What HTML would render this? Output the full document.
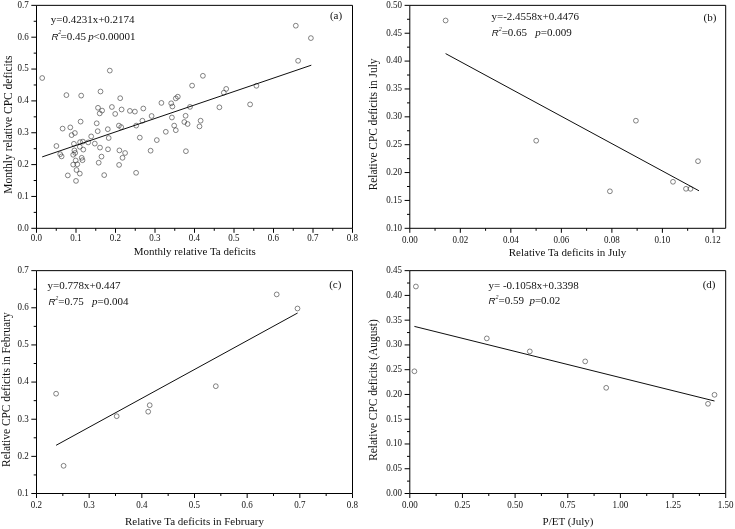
<!DOCTYPE html>
<html><head><meta charset="utf-8"><title>Figure</title>
<style>
html,body{margin:0;padding:0;background:#fff;-webkit-font-smoothing:antialiased;}
body{width:735px;height:529px;overflow:hidden;font-family:"Liberation Serif", serif;}
svg{display:block;will-change:transform;}
text{font-family:"Liberation Serif", serif;fill:#111;white-space:pre;}
.tk{font-size:9px;}
.eq{font-size:11px;}
.it{font-style:italic;}
.ri{font-family:"Liberation Sans", sans-serif;font-style:italic;font-size:9.6px;}
.sup{font-size:6px;font-style:italic;}
.pt circle{fill:#fff;fill-opacity:0;stroke:#333;stroke-width:0.6;}
</style></head><body>
<svg width="735" height="529" viewBox="0 0 735 529">
<rect x="0" y="0" width="735" height="529" fill="#fff"/>
<path d="M36.5 5.35H352.5V228.3H36.5Z" fill="none" stroke="#000" stroke-width="1.0"/>
<path d="M36.5 228.3v4.5M76 228.3v4.5M115.5 228.3v4.5M155 228.3v4.5M194.5 228.3v4.5M234 228.3v4.5M273.5 228.3v4.5M313 228.3v4.5M352.5 228.3v4.5M56.25 228.3v2.5M95.75 228.3v2.5M135.25 228.3v2.5M174.75 228.3v2.5M214.25 228.3v2.5M253.75 228.3v2.5M293.25 228.3v2.5M332.75 228.3v2.5M36.5 228.3h-5.2M36.5 196.45h-5.2M36.5 164.6h-5.2M36.5 132.75h-5.2M36.5 100.9h-5.2M36.5 69.05h-5.2M36.5 37.2h-5.2M36.5 5.35h-5.2M36.5 212.38h-2.8M36.5 180.53h-2.8M36.5 148.68h-2.8M36.5 116.83h-2.8M36.5 84.98h-2.8M36.5 53.13h-2.8M36.5 21.28h-2.8" fill="none" stroke="#000" stroke-width="1.0"/>
<text transform="translate(36.5 240.5) scale(1 1.06)" text-anchor="middle" class="tk">0.0</text>
<text transform="translate(76 240.5) scale(1 1.06)" text-anchor="middle" class="tk">0.1</text>
<text transform="translate(115.5 240.5) scale(1 1.06)" text-anchor="middle" class="tk">0.2</text>
<text transform="translate(155 240.5) scale(1 1.06)" text-anchor="middle" class="tk">0.3</text>
<text transform="translate(194.5 240.5) scale(1 1.06)" text-anchor="middle" class="tk">0.4</text>
<text transform="translate(234 240.5) scale(1 1.06)" text-anchor="middle" class="tk">0.5</text>
<text transform="translate(273.5 240.5) scale(1 1.06)" text-anchor="middle" class="tk">0.6</text>
<text transform="translate(313 240.5) scale(1 1.06)" text-anchor="middle" class="tk">0.7</text>
<text transform="translate(352.5 240.5) scale(1 1.06)" text-anchor="middle" class="tk">0.8</text>
<text transform="translate(28.8 230.7) scale(1 1.06)" text-anchor="end" class="tk">0.0</text>
<text transform="translate(28.8 198.85) scale(1 1.06)" text-anchor="end" class="tk">0.1</text>
<text transform="translate(28.8 167) scale(1 1.06)" text-anchor="end" class="tk">0.2</text>
<text transform="translate(28.8 135.15) scale(1 1.06)" text-anchor="end" class="tk">0.3</text>
<text transform="translate(28.8 103.3) scale(1 1.06)" text-anchor="end" class="tk">0.4</text>
<text transform="translate(28.8 71.45) scale(1 1.06)" text-anchor="end" class="tk">0.5</text>
<text transform="translate(28.8 39.6) scale(1 1.06)" text-anchor="end" class="tk">0.6</text>
<text transform="translate(28.8 7.75) scale(1 1.06)" text-anchor="end" class="tk">0.7</text>
<g class="pt">
<circle cx="42.2" cy="78" r="2.4"/>
<circle cx="109.8" cy="70.6" r="2.4"/>
<circle cx="66.4" cy="95.1" r="2.4"/>
<circle cx="81.2" cy="95.6" r="2.4"/>
<circle cx="100.5" cy="91.5" r="2.4"/>
<circle cx="120.2" cy="98.2" r="2.4"/>
<circle cx="98" cy="107.8" r="2.4"/>
<circle cx="102.1" cy="110.6" r="2.4"/>
<circle cx="99.7" cy="113.4" r="2.4"/>
<circle cx="111.9" cy="107" r="2.4"/>
<circle cx="115.2" cy="113.9" r="2.4"/>
<circle cx="121.6" cy="109.5" r="2.4"/>
<circle cx="129.9" cy="110.9" r="2.4"/>
<circle cx="134.9" cy="111.6" r="2.4"/>
<circle cx="143.3" cy="108.5" r="2.4"/>
<circle cx="151.6" cy="116" r="2.4"/>
<circle cx="80.6" cy="121.6" r="2.4"/>
<circle cx="96.7" cy="123.3" r="2.4"/>
<circle cx="62.6" cy="128.6" r="2.4"/>
<circle cx="70.3" cy="127.4" r="2.4"/>
<circle cx="74.9" cy="133" r="2.4"/>
<circle cx="71.6" cy="135.1" r="2.4"/>
<circle cx="97.7" cy="131.2" r="2.4"/>
<circle cx="107.8" cy="129.2" r="2.4"/>
<circle cx="118.9" cy="125.6" r="2.4"/>
<circle cx="121.2" cy="127.1" r="2.4"/>
<circle cx="136.2" cy="125.6" r="2.4"/>
<circle cx="142.4" cy="120.7" r="2.4"/>
<circle cx="91.2" cy="136.4" r="2.4"/>
<circle cx="108.7" cy="138" r="2.4"/>
<circle cx="139.8" cy="137.6" r="2.4"/>
<circle cx="156.8" cy="140.1" r="2.4"/>
<circle cx="56.4" cy="146" r="2.4"/>
<circle cx="73.9" cy="143.8" r="2.4"/>
<circle cx="80.1" cy="142.1" r="2.4"/>
<circle cx="82.9" cy="141.6" r="2.4"/>
<circle cx="88.2" cy="142.4" r="2.4"/>
<circle cx="94.8" cy="143.6" r="2.4"/>
<circle cx="60.2" cy="154.2" r="2.4"/>
<circle cx="61.6" cy="156.4" r="2.4"/>
<circle cx="74.4" cy="150.4" r="2.4"/>
<circle cx="75.2" cy="152.9" r="2.4"/>
<circle cx="73.2" cy="154.8" r="2.4"/>
<circle cx="79.8" cy="146.8" r="2.4"/>
<circle cx="83.3" cy="149.6" r="2.4"/>
<circle cx="100" cy="147.6" r="2.4"/>
<circle cx="108" cy="149.3" r="2.4"/>
<circle cx="119.4" cy="150.4" r="2.4"/>
<circle cx="125.1" cy="153" r="2.4"/>
<circle cx="150.6" cy="150.7" r="2.4"/>
<circle cx="101.5" cy="156.6" r="2.4"/>
<circle cx="122.5" cy="157.8" r="2.4"/>
<circle cx="81.7" cy="157.8" r="2.4"/>
<circle cx="82.5" cy="160.2" r="2.4"/>
<circle cx="75.7" cy="160.5" r="2.4"/>
<circle cx="73.2" cy="164.6" r="2.4"/>
<circle cx="77.3" cy="164.3" r="2.4"/>
<circle cx="98.7" cy="162.7" r="2.4"/>
<circle cx="119.1" cy="164.9" r="2.4"/>
<circle cx="76.5" cy="170" r="2.4"/>
<circle cx="79.8" cy="173.6" r="2.4"/>
<circle cx="67.8" cy="175.4" r="2.4"/>
<circle cx="104.2" cy="175.1" r="2.4"/>
<circle cx="136.1" cy="172.8" r="2.4"/>
<circle cx="76" cy="180.9" r="2.4"/>
<circle cx="202.9" cy="75.8" r="2.4"/>
<circle cx="192.1" cy="85.6" r="2.4"/>
<circle cx="226.2" cy="88.9" r="2.4"/>
<circle cx="223.8" cy="92.7" r="2.4"/>
<circle cx="256.4" cy="85.8" r="2.4"/>
<circle cx="177.8" cy="96.7" r="2.4"/>
<circle cx="175.8" cy="98.4" r="2.4"/>
<circle cx="161.4" cy="102.9" r="2.4"/>
<circle cx="171.2" cy="103.3" r="2.4"/>
<circle cx="172.4" cy="106.5" r="2.4"/>
<circle cx="190" cy="106.9" r="2.4"/>
<circle cx="219.4" cy="107.3" r="2.4"/>
<circle cx="250.1" cy="104.4" r="2.4"/>
<circle cx="171.9" cy="117.5" r="2.4"/>
<circle cx="185.6" cy="115.8" r="2.4"/>
<circle cx="200.6" cy="120.7" r="2.4"/>
<circle cx="184.3" cy="122" r="2.4"/>
<circle cx="187.6" cy="124" r="2.4"/>
<circle cx="199.5" cy="126.4" r="2.4"/>
<circle cx="174.2" cy="125.6" r="2.4"/>
<circle cx="175.8" cy="130.2" r="2.4"/>
<circle cx="165.8" cy="131.8" r="2.4"/>
<circle cx="185.9" cy="151.2" r="2.4"/>
<circle cx="295.8" cy="25.7" r="2.4"/>
<circle cx="310.9" cy="38.1" r="2.4"/>
<circle cx="298.1" cy="60.8" r="2.4"/>
</g>
<line x1="42.2" y1="156.9" x2="311.3" y2="65.2" stroke="#000" stroke-width="0.95"/>
<text x="50.7" y="23.1" class="eq">y=0.4231x+0.2174</text>
<text x="51.4" y="39.7" class="eq"><tspan class="ri">R</tspan><tspan class="sup" dy="-5.6">2</tspan><tspan dy="5.6" dx="-0.8">=0.45 </tspan><tspan class="it" dx="-0.4">p</tspan><tspan dx="-0.3">&lt;0.00001</tspan></text>
<text x="336" y="18.6" text-anchor="middle" class="eq">(a)</text>
<text x="194.8" y="254.8" text-anchor="middle" class="eq">Monthly relative Ta deficits</text>
<text transform="translate(11.85 124.7) rotate(-90) scale(1.046 1.05)" text-anchor="middle" class="eq">Monthly relative CPC deficits</text>
<path d="M409.8 5.35H725.7V228.3H409.8Z" fill="none" stroke="#000" stroke-width="1.0"/>
<path d="M409.8 228.3v4.5M460.32 228.3v4.5M510.84 228.3v4.5M561.36 228.3v4.5M611.88 228.3v4.5M662.4 228.3v4.5M712.92 228.3v4.5M435.06 228.3v2.5M485.58 228.3v2.5M536.1 228.3v2.5M586.62 228.3v2.5M637.14 228.3v2.5M687.66 228.3v2.5M409.8 228.3h-5.2M409.8 200.43h-5.2M409.8 172.56h-5.2M409.8 144.69h-5.2M409.8 116.83h-5.2M409.8 88.96h-5.2M409.8 61.09h-5.2M409.8 33.22h-5.2M409.8 5.35h-5.2M409.8 214.37h-2.8M409.8 186.5h-2.8M409.8 158.63h-2.8M409.8 130.76h-2.8M409.8 102.89h-2.8M409.8 75.02h-2.8M409.8 47.15h-2.8M409.8 19.28h-2.8" fill="none" stroke="#000" stroke-width="1.0"/>
<text transform="translate(409.8 242.9) scale(1 1.06)" text-anchor="middle" class="tk">0.00</text>
<text transform="translate(460.32 242.9) scale(1 1.06)" text-anchor="middle" class="tk">0.02</text>
<text transform="translate(510.84 242.9) scale(1 1.06)" text-anchor="middle" class="tk">0.04</text>
<text transform="translate(561.36 242.9) scale(1 1.06)" text-anchor="middle" class="tk">0.06</text>
<text transform="translate(611.88 242.9) scale(1 1.06)" text-anchor="middle" class="tk">0.08</text>
<text transform="translate(662.4 242.9) scale(1 1.06)" text-anchor="middle" class="tk">0.10</text>
<text transform="translate(712.92 242.9) scale(1 1.06)" text-anchor="middle" class="tk">0.12</text>
<text transform="translate(402.1 230.7) scale(1 1.06)" text-anchor="end" class="tk">0.10</text>
<text transform="translate(402.1 202.83) scale(1 1.06)" text-anchor="end" class="tk">0.15</text>
<text transform="translate(402.1 174.96) scale(1 1.06)" text-anchor="end" class="tk">0.20</text>
<text transform="translate(402.1 147.09) scale(1 1.06)" text-anchor="end" class="tk">0.25</text>
<text transform="translate(402.1 119.23) scale(1 1.06)" text-anchor="end" class="tk">0.30</text>
<text transform="translate(402.1 91.36) scale(1 1.06)" text-anchor="end" class="tk">0.35</text>
<text transform="translate(402.1 63.49) scale(1 1.06)" text-anchor="end" class="tk">0.40</text>
<text transform="translate(402.1 35.62) scale(1 1.06)" text-anchor="end" class="tk">0.45</text>
<text transform="translate(402.1 7.75) scale(1 1.06)" text-anchor="end" class="tk">0.50</text>
<g class="pt">
<circle cx="445.6" cy="20.5" r="2.4"/>
<circle cx="536.2" cy="140.7" r="2.4"/>
<circle cx="609.9" cy="191.3" r="2.4"/>
<circle cx="635.9" cy="120.7" r="2.4"/>
<circle cx="673" cy="181.8" r="2.4"/>
<circle cx="686" cy="188.8" r="2.4"/>
<circle cx="690.5" cy="188.8" r="2.4"/>
<circle cx="698" cy="161.2" r="2.4"/>
</g>
<line x1="445.6" y1="53.6" x2="699" y2="190.8" stroke="#000" stroke-width="0.95"/>
<text x="491.5" y="19.9" class="eq">y=-2.4558x+0.4476</text>
<text x="491.7" y="36.2" class="eq"><tspan class="ri">R</tspan><tspan class="sup" dy="-5.6">2</tspan><tspan dy="5.6">=0.65   </tspan><tspan class="it">p</tspan>=0.009</text>
<text x="709.9" y="21.4" text-anchor="middle" class="eq">(b)</text>
<text x="567.5" y="256.2" text-anchor="middle" class="eq">Relative Ta deficits in July</text>
<text transform="translate(376.9 124.45) rotate(-90) scale(1.033 1.12)" text-anchor="middle" class="eq">Relative CPC deficits in July</text>
<path d="M36.5 270.65H352.5V493.5H36.5Z" fill="none" stroke="#000" stroke-width="1.0"/>
<path d="M36.5 493.5v4.5M89.17 493.5v4.5M141.83 493.5v4.5M194.5 493.5v4.5M247.17 493.5v4.5M299.83 493.5v4.5M352.5 493.5v4.5M62.83 493.5v2.5M115.5 493.5v2.5M168.17 493.5v2.5M220.83 493.5v2.5M273.5 493.5v2.5M326.17 493.5v2.5M36.5 493.5h-5.2M36.5 456.36h-5.2M36.5 419.22h-5.2M36.5 382.07h-5.2M36.5 344.93h-5.2M36.5 307.79h-5.2M36.5 270.65h-5.2M36.5 474.93h-2.8M36.5 437.79h-2.8M36.5 400.65h-2.8M36.5 363.5h-2.8M36.5 326.36h-2.8M36.5 289.22h-2.8" fill="none" stroke="#000" stroke-width="1.0"/>
<text transform="translate(36.5 508.1) scale(1 1.06)" text-anchor="middle" class="tk">0.2</text>
<text transform="translate(89.17 508.1) scale(1 1.06)" text-anchor="middle" class="tk">0.3</text>
<text transform="translate(141.83 508.1) scale(1 1.06)" text-anchor="middle" class="tk">0.4</text>
<text transform="translate(194.5 508.1) scale(1 1.06)" text-anchor="middle" class="tk">0.5</text>
<text transform="translate(247.17 508.1) scale(1 1.06)" text-anchor="middle" class="tk">0.6</text>
<text transform="translate(299.83 508.1) scale(1 1.06)" text-anchor="middle" class="tk">0.7</text>
<text transform="translate(352.5 508.1) scale(1 1.06)" text-anchor="middle" class="tk">0.8</text>
<text transform="translate(28.8 495.9) scale(1 1.06)" text-anchor="end" class="tk">0.1</text>
<text transform="translate(28.8 458.76) scale(1 1.06)" text-anchor="end" class="tk">0.2</text>
<text transform="translate(28.8 421.62) scale(1 1.06)" text-anchor="end" class="tk">0.3</text>
<text transform="translate(28.8 384.47) scale(1 1.06)" text-anchor="end" class="tk">0.4</text>
<text transform="translate(28.8 347.33) scale(1 1.06)" text-anchor="end" class="tk">0.5</text>
<text transform="translate(28.8 310.19) scale(1 1.06)" text-anchor="end" class="tk">0.6</text>
<text transform="translate(28.8 273.05) scale(1 1.06)" text-anchor="end" class="tk">0.7</text>
<g class="pt">
<circle cx="56.1" cy="393.7" r="2.4"/>
<circle cx="63.6" cy="465.8" r="2.4"/>
<circle cx="116.7" cy="416.2" r="2.4"/>
<circle cx="148.2" cy="411.7" r="2.4"/>
<circle cx="149.7" cy="405.2" r="2.4"/>
<circle cx="215.8" cy="386.2" r="2.4"/>
<circle cx="276.7" cy="294.4" r="2.4"/>
<circle cx="297.5" cy="308.5" r="2.4"/>
</g>
<line x1="56.1" y1="445.3" x2="297.6" y2="313" stroke="#000" stroke-width="0.95"/>
<text x="47.5" y="289.1" class="eq">y=0.778x+0.447</text>
<text x="48.4" y="305.4" class="eq"><tspan class="ri">R</tspan><tspan class="sup" dy="-5.6">2</tspan><tspan dy="5.6">=0.75   </tspan><tspan class="it">p</tspan>=0.004</text>
<text x="335.3" y="288.4" text-anchor="middle" class="eq">(c)</text>
<text x="194.5" y="525" text-anchor="middle" class="eq">Relative Ta deficits in February</text>
<text transform="translate(9.8 389.65) rotate(-90) scale(1.038 1.13)" text-anchor="middle" class="eq">Relative CPC deficits in February</text>
<path d="M409.8 270.65H725.7V493.5H409.8Z" fill="none" stroke="#000" stroke-width="1.0"/>
<path d="M409.8 493.5v4.5M462.45 493.5v4.5M515.1 493.5v4.5M567.75 493.5v4.5M620.4 493.5v4.5M673.05 493.5v4.5M725.7 493.5v4.5M436.12 493.5v2.5M488.78 493.5v2.5M541.42 493.5v2.5M594.08 493.5v2.5M646.73 493.5v2.5M699.38 493.5v2.5M409.8 493.5h-5.2M409.8 468.74h-5.2M409.8 443.98h-5.2M409.8 419.22h-5.2M409.8 394.46h-5.2M409.8 369.69h-5.2M409.8 344.93h-5.2M409.8 320.17h-5.2M409.8 295.41h-5.2M409.8 270.65h-5.2M409.8 481.12h-2.8M409.8 456.36h-2.8M409.8 431.6h-2.8M409.8 406.84h-2.8M409.8 382.07h-2.8M409.8 357.31h-2.8M409.8 332.55h-2.8M409.8 307.79h-2.8M409.8 283.03h-2.8" fill="none" stroke="#000" stroke-width="1.0"/>
<text transform="translate(409.8 508.1) scale(1 1.06)" text-anchor="middle" class="tk">0.00</text>
<text transform="translate(462.45 508.1) scale(1 1.06)" text-anchor="middle" class="tk">0.25</text>
<text transform="translate(515.1 508.1) scale(1 1.06)" text-anchor="middle" class="tk">0.50</text>
<text transform="translate(567.75 508.1) scale(1 1.06)" text-anchor="middle" class="tk">0.75</text>
<text transform="translate(620.4 508.1) scale(1 1.06)" text-anchor="middle" class="tk">1.00</text>
<text transform="translate(673.05 508.1) scale(1 1.06)" text-anchor="middle" class="tk">1.25</text>
<text transform="translate(725.7 508.1) scale(1 1.06)" text-anchor="middle" class="tk">1.50</text>
<text transform="translate(402.1 495.9) scale(1 1.06)" text-anchor="end" class="tk">0.00</text>
<text transform="translate(402.1 471.14) scale(1 1.06)" text-anchor="end" class="tk">0.05</text>
<text transform="translate(402.1 446.38) scale(1 1.06)" text-anchor="end" class="tk">0.10</text>
<text transform="translate(402.1 421.62) scale(1 1.06)" text-anchor="end" class="tk">0.15</text>
<text transform="translate(402.1 396.86) scale(1 1.06)" text-anchor="end" class="tk">0.20</text>
<text transform="translate(402.1 372.09) scale(1 1.06)" text-anchor="end" class="tk">0.25</text>
<text transform="translate(402.1 347.33) scale(1 1.06)" text-anchor="end" class="tk">0.30</text>
<text transform="translate(402.1 322.57) scale(1 1.06)" text-anchor="end" class="tk">0.35</text>
<text transform="translate(402.1 297.81) scale(1 1.06)" text-anchor="end" class="tk">0.40</text>
<text transform="translate(402.1 273.05) scale(1 1.06)" text-anchor="end" class="tk">0.45</text>
<g class="pt">
<circle cx="415.9" cy="286.5" r="2.4"/>
<circle cx="414.4" cy="371.3" r="2.4"/>
<circle cx="486.8" cy="338.4" r="2.4"/>
<circle cx="529.8" cy="351.4" r="2.4"/>
<circle cx="585.2" cy="361.4" r="2.4"/>
<circle cx="606.2" cy="387.8" r="2.4"/>
<circle cx="708" cy="403.8" r="2.4"/>
<circle cx="714.5" cy="394.8" r="2.4"/>
</g>
<line x1="414.4" y1="326.4" x2="714.5" y2="401" stroke="#000" stroke-width="0.95"/>
<text x="488.5" y="288.5" class="eq">y= -0.1058x+0.3398</text>
<text x="488.5" y="304.2" class="eq"><tspan class="ri">R</tspan><tspan class="sup" dy="-5.6">2</tspan><tspan dy="5.6">=0.59  </tspan><tspan class="it">p</tspan>=0.02</text>
<text x="709.1" y="288.4" text-anchor="middle" class="eq">(d)</text>
<text x="568" y="524.7" text-anchor="middle" class="eq">P/ET (July)</text>
<text transform="translate(377 390.05) rotate(-90) scale(1.033 1.13)" text-anchor="middle" class="eq">Relative CPC deficits (August)</text>
</svg>
</body></html>
